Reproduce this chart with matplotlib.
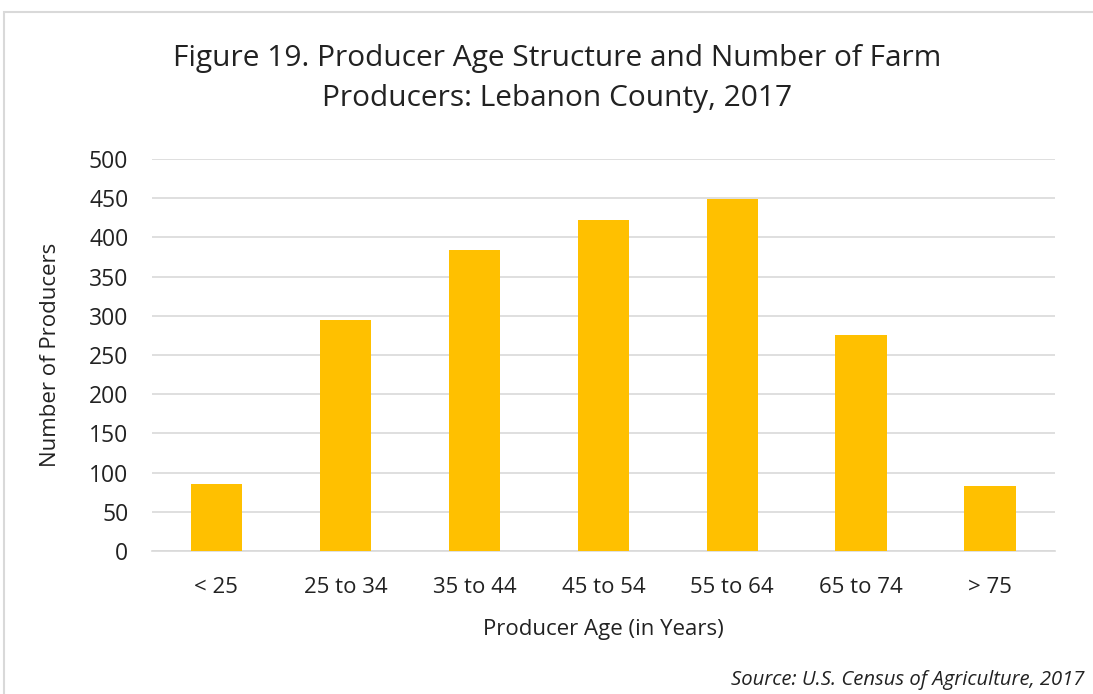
import matplotlib
matplotlib.use("Agg")
import matplotlib.pyplot as plt
from matplotlib.patches import Rectangle

# data
categories = ["< 25", "25 to 34", "35 to 44", "45 to 54", "55 to 64", "65 to 74", "> 75"]
producers = [85, 294, 384, 422, 449, 276, 83]
yticks = [0, 50, 100, 150, 200, 250, 300, 350, 400, 450, 500]

title_text = "Figure 19. Producer Age Structure and Number of Farm\nProducers: Lebanon County, 2017"
xlabel_text = "Producer Age (in Years)"
ylabel_text = "Number of Producers"
source_text = "Source: U.S. Census of Agriculture, 2017"

plt.rcParams['font.family'] = ['Open Sans', 'DejaVu Sans']
txt = '#222222'

fig = plt.figure(figsize=(10.93, 6.94), dpi=100)
fig.patch.set_facecolor('white')

# light frame around the whole chart
fig.add_artist(Rectangle((0.004, -0.01), 1.2, 0.993, transform=fig.transFigure,
                         fill=False, edgecolor='#d9d9d9', linewidth=1.5))

ax = fig.add_axes([0.139, 0.206, 0.826, 0.565])
x = range(len(categories))
ax.bar(x, producers, width=0.4, color='#FFC000', zorder=3)

ax.set_xlim(-0.5, len(categories) - 0.5)
ax.set_ylim(0, 500)
ax.set_yticks(yticks)
ax.set_xticks(list(x))
ax.set_xticklabels(categories)
ax.grid(axis='y', color='#d9d9d9', linewidth=1.2, zorder=0)
for s in ['top', 'right', 'left']:
    ax.spines[s].set_visible(False)
ax.spines['bottom'].set_color('#d9d9d9')
ax.spines['bottom'].set_linewidth(1.2)
ax.tick_params(axis='x', length=0, labelsize=16, colors=txt, pad=19)
ax.tick_params(axis='y', length=0, labelsize=16.5, colors=txt, pad=17)

ax.set_xlabel(xlabel_text, fontsize=16, color=txt, labelpad=15)
ax.set_ylabel(ylabel_text, fontsize=16, color=txt, labelpad=20)

fig.text(0.51, 0.887, title_text, ha='center', va='center', fontsize=21.5,
         color=txt, linespacing=1.5)
fig.text(0.992, 0.02, source_text, ha='right', va='center', fontsize=14.6,
         style='italic', color=txt)

fig.savefig("out.png", dpi=100)
